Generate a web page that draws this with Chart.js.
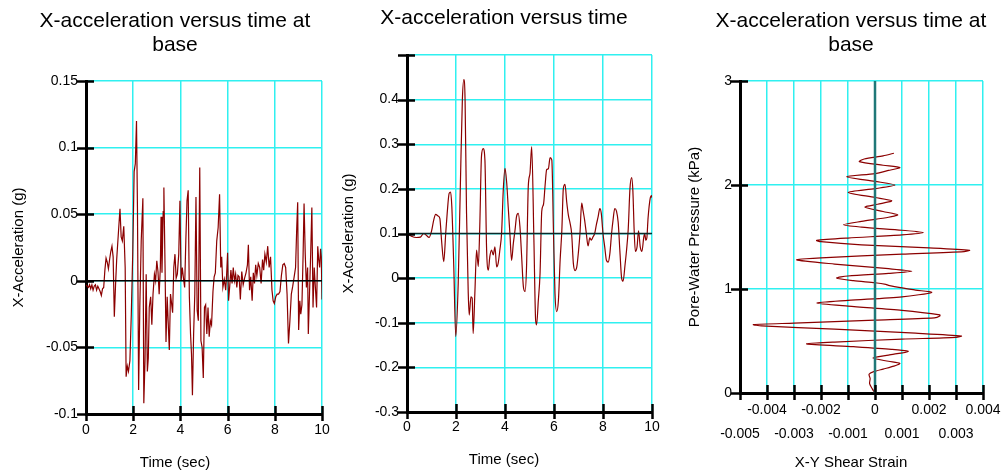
<!DOCTYPE html>
<html><head><meta charset="utf-8">
<script src="https://cdn.jsdelivr.net/npm/chart.js@4.4.1/dist/chart.umd.min.js"></script>
<style>
html,body{margin:0;padding:0;background:#fff;overflow:hidden;width:1003px;height:473px;position:relative;}
canvas{position:absolute;top:0;}
</style></head><body>
<canvas id="c1" width="350" height="473" style="left:0px"></canvas>
<canvas id="c2" width="328" height="473" style="left:340px"></canvas>
<canvas id="c3" width="330" height="473" style="left:686px"></canvas>
<script>
// ---------- Panel 1: base acceleration ----------
const baseTime = [0.00,0.05,0.10,0.15,0.20,0.25,0.30,0.35,0.40,0.45,0.50,0.55,0.60,0.65,0.70,0.75,0.80,0.85,0.90,0.95,1.00,1.05,1.10,1.15,1.20,1.25,1.30,1.38,1.44,1.49,1.54,1.60,1.66,1.70,1.75,1.80,1.86,1.92,1.98,2.04,2.09,2.14,2.18,2.23,2.28,2.34,2.41,2.45,2.50,2.55,2.60,2.64,2.68,2.74,2.79,2.84,2.90,2.95,3.00,3.05,3.10,3.15,3.18,3.22,3.27,3.30,3.35,3.39,3.44,3.48,3.53,3.58,3.62,3.67,3.72,3.77,3.82,3.87,3.93,3.98,4.03,4.08,4.13,4.18,4.23,4.28,4.33,4.38,4.43,4.47,4.51,4.56,4.61,4.66,4.71,4.76,4.82,4.87,4.92,4.97,5.02,5.07,5.12,5.17,5.22,5.27,5.32,5.38,5.43,5.48,5.54,5.60,5.66,5.71,5.75,5.80,5.86,5.92,5.96,6.00,6.04,6.09,6.14,6.19,6.24,6.29,6.34,6.39,6.44,6.49,6.54,6.60,6.66,6.72,6.78,6.84,6.88,6.93,6.98,7.04,7.09,7.14,7.19,7.24,7.30,7.36,7.42,7.48,7.53,7.58,7.64,7.70,7.76,7.82,7.88,7.93,7.98,8.04,8.10,8.16,8.22,8.28,8.34,8.40,8.46,8.52,8.58,8.64,8.70,8.76,8.82,8.88,8.93,8.97,9.01,9.06,9.10,9.15,9.20,9.24,9.29,9.34,9.39,9.42,9.47,9.52,9.57,9.62,9.67,9.72,9.77,9.82,9.86,9.90,9.94,9.97,10.00];
const baseAccel = [-0.003,-0.004,-0.005,-0.003,-0.006,-0.003,-0.007,-0.004,-0.003,-0.007,-0.004,-0.006,-0.008,-0.011,-0.006,-0.005,0.008,0.017,0.014,0.009,0.016,0.022,0.026,0.018,-0.027,-0.004,0.016,0.038,0.054,0.033,0.030,0.041,0.010,-0.072,-0.064,-0.068,-0.060,-0.025,0.020,0.082,0.088,0.120,0.055,-0.082,-0.020,0.030,0.062,-0.092,-0.060,0.005,-0.068,-0.058,-0.020,-0.012,-0.033,-0.010,0.005,0.000,0.015,0.007,-0.010,0.010,0.048,0.006,0.052,0.070,0.010,-0.046,-0.012,-0.030,-0.052,-0.010,-0.016,-0.024,0.010,0.020,0.002,0.005,0.020,0.060,0.000,0.010,0.002,-0.005,0.030,0.060,0.068,-0.012,-0.040,-0.055,-0.086,-0.040,-0.010,0.063,-0.022,-0.030,0.085,-0.045,-0.050,-0.073,-0.020,-0.018,-0.040,-0.020,-0.042,-0.030,-0.033,-0.008,0.003,0.006,0.030,0.040,0.065,0.010,0.018,-0.005,0.001,-0.007,0.005,0.021,-0.015,-0.004,0.008,-0.002,0.010,0.000,0.005,-0.005,0.004,0.003,-0.014,0.007,-0.003,0.002,0.006,0.012,0.027,-0.007,0.003,-0.015,0.006,-0.002,0.012,0.004,0.013,0.010,-0.002,0.016,0.008,0.020,0.014,0.026,0.010,0.018,-0.007,-0.015,-0.017,-0.012,-0.010,-0.010,-0.008,0.004,0.012,0.013,0.010,-0.010,-0.047,-0.030,-0.010,-0.004,0.003,0.010,0.040,0.059,-0.037,-0.015,-0.025,-0.018,0.020,0.058,0.020,-0.005,0.010,-0.040,-0.010,0.020,0.055,-0.020,0.010,-0.005,-0.020,0.026,0.016,0.010,0.024,0.018,-0.014];
const baseRefTime = [0, 10];
const baseRefAccel = [0, 0];
const timeTickLabels = ['0','2','4','6','8','10'];
const baseAccelTickLabels = ['-0.1','-0.05','0','0.05','0.1','0.15'];

// ---------- Panel 2: acceleration ----------
const accTime = [0.00,0.18,0.38,0.55,0.68,0.79,0.90,1.00,1.09,1.17,1.27,1.34,1.41,1.50,1.58,1.64,1.72,1.78,1.83,1.91,1.99,2.09,2.18,2.26,2.32,2.37,2.43,2.50,2.54,2.61,2.66,2.70,2.77,2.84,2.91,2.97,3.04,3.11,3.18,3.25,3.32,3.38,3.45,3.52,3.59,3.66,3.72,3.79,3.86,3.93,4.00,4.07,4.13,4.20,4.27,4.34,4.41,4.47,4.54,4.61,4.68,4.75,4.82,4.88,4.95,5.02,5.09,5.18,5.25,5.29,5.36,5.43,5.50,5.57,5.64,5.70,5.77,5.84,5.91,5.98,6.04,6.11,6.18,6.25,6.32,6.38,6.45,6.52,6.59,6.65,6.72,6.79,6.86,6.93,7.00,7.06,7.13,7.19,7.25,7.32,7.39,7.46,7.52,7.59,7.66,7.73,7.80,7.87,7.93,8.00,8.07,8.14,8.21,8.28,8.35,8.41,8.48,8.55,8.62,8.69,8.76,8.82,8.90,8.96,9.03,9.10,9.17,9.22,9.27,9.32,9.39,9.45,9.52,9.59,9.66,9.70,9.75,9.79,9.84,9.93,9.98,10.00];
const accValue = [0.100,0.094,0.091,0.092,0.100,0.096,0.091,0.105,0.130,0.143,0.139,0.134,0.085,0.037,0.100,0.145,0.190,0.193,0.160,0.025,-0.131,-0.012,0.213,0.400,0.445,0.400,0.146,-0.034,-0.083,-0.042,-0.045,-0.124,-0.034,0.063,0.026,0.115,0.273,0.290,0.265,0.063,0.018,0.048,0.063,0.052,0.070,0.025,0.033,0.063,0.100,0.198,0.246,0.213,0.160,0.100,0.040,0.078,0.108,0.138,0.145,0.115,0.048,-0.019,-0.030,0.026,0.205,0.235,0.295,0.085,-0.094,-0.105,-0.050,0.010,0.150,0.165,0.210,0.243,0.245,0.270,0.265,0.100,-0.034,-0.075,-0.050,0.040,0.107,0.200,0.210,0.170,0.140,0.125,0.100,0.033,0.017,0.025,0.060,0.100,0.168,0.150,0.130,0.100,0.072,0.090,0.085,0.092,0.100,0.120,0.137,0.156,0.145,0.100,0.070,0.040,0.036,0.055,0.100,0.130,0.156,0.150,0.125,0.060,0.000,-0.007,0.030,0.062,0.110,0.200,0.225,0.195,0.110,0.060,0.070,0.106,0.070,0.060,0.090,0.100,0.085,0.090,0.135,0.180,0.185,0.180];
const accRefTime = [0, 10];
const accRefValue = [0.1, 0.1];
const accTickLabels = ['-0.3','-0.2','-0.1','0','0.1','0.2','0.3','0.4',''];

// ---------- Panel 3: shear strain vs pore-water pressure ----------
const shearStrain = [0.00000,-0.00010,-0.00020,-0.00018,-0.00022,-0.00005,0.00030,0.00070,0.00092,0.00050,-0.00008,0.00050,0.00123,0.00060,-0.00080,-0.00253,-0.00150,0.00100,0.00300,0.00320,0.00150,-0.00150,-0.00420,-0.00450,-0.00300,0.00000,0.00220,0.00240,0.00240,0.00100,-0.00100,-0.00216,-0.00100,0.00100,0.00210,0.00150,0.00100,0.00050,0.00040,0.00000,-0.00080,-0.00142,-0.00100,0.00050,0.00136,0.00050,-0.00150,-0.00290,-0.00200,0.00100,0.00330,0.00350,0.00200,-0.00050,-0.00200,-0.00216,-0.00100,0.00100,0.00179,0.00100,-0.00050,-0.00117,-0.00050,0.00050,0.00084,0.00030,-0.00037,0.00010,0.00062,0.00000,-0.00099,0.00000,0.00074,0.00000,-0.00105,0.00000,0.00050,0.00092,0.00030,-0.00058,-0.00040,0.00030,0.00070];
const porePressure = [0.000,0.040,0.090,0.140,0.180,0.205,0.230,0.258,0.285,0.305,0.336,0.365,0.400,0.420,0.445,0.472,0.490,0.518,0.535,0.548,0.575,0.615,0.645,0.658,0.672,0.700,0.722,0.740,0.752,0.795,0.835,0.865,0.890,0.925,0.967,0.990,1.010,1.035,1.045,1.060,1.080,1.105,1.125,1.150,1.170,1.195,1.240,1.280,1.300,1.335,1.360,1.372,1.395,1.425,1.455,1.467,1.490,1.520,1.543,1.565,1.595,1.617,1.650,1.690,1.713,1.745,1.787,1.815,1.848,1.880,1.928,1.965,2.000,2.035,2.080,2.110,2.140,2.168,2.190,2.225,2.250,2.280,2.305];
const strainRefX = [0, 0];
const strainRefY = [0, 3];
const strainTickLabels = ['-0.005','-0.004','-0.003','-0.002','-0.001','0','0.001','0.002','0.003','0.004'];
const pressureTickLabels = ['0','1','2','3'];

// ---------- helpers ----------
const FONT = "'Liberation Sans', Arial, Helvetica, sans-serif";
const GRID = '#30F0F0';
const LINE = '#8B0000';
const zip = (xs, ys) => xs.map((x, i) => ({x: x, y: ys[i]}));

const tickMarks = {
  id: 'tickMarks',
  afterDraw(chart, args, o) {
    const ctx = chart.ctx, a = chart.chartArea, xs = chart.scales.x, ys = chart.scales.y;
    ctx.save();
    ctx.strokeStyle = '#000';
    ctx.lineWidth = 2.5;
    ctx.beginPath();
    ys.ticks.forEach(t => {
      const py = Math.round(ys.getPixelForValue(t.value)) + 0.5;
      ctx.moveTo(a.left - o.yOut, py); ctx.lineTo(a.left + o.yIn, py);
    });
    xs.ticks.forEach(t => {
      const px = Math.round(xs.getPixelForValue(t.value)) + 0.5;
      ctx.moveTo(px, a.bottom - o.xIn); ctx.lineTo(px, a.bottom + o.xOut);
    });
    ctx.stroke();
    ctx.restore();
  }
};

function panel(id, p) {
  return new Chart(document.getElementById(id), {
    type: 'scatter',
    data: { datasets: [
      { data: p.ref, showLine: true, borderColor: p.refColor, borderWidth: p.refWidth, pointRadius: 0, order: 0 },
      { data: p.data, showLine: true, borderColor: LINE, borderWidth: 1.2, pointRadius: 0, tension: p.tension,
        cubicInterpolationMode: p.mono ? 'monotone' : 'default', order: 1 }
    ]},
    options: {
      responsive: false, animation: false, devicePixelRatio: 1,
      layout: { padding: 0 },
      plugins: {
        legend: { display: false }, tooltip: { enabled: false },
        title: { display: true, text: p.title, color: '#000',
          font: { family: FONT, size: 21, weight: 'normal', lineHeight: 24 / 21 },
          padding: { top: p.titleTop, bottom: p.titleBottom } },
        subtitle: { display: true, position: 'bottom', text: p.xTitle, color: '#000',
          font: { family: FONT, size: 15, weight: 'normal', lineHeight: 1.2 },
          padding: { top: 0, bottom: p.subBottom } },
        tickMarks: { yOut: 9, yIn: 8, xIn: 8, xOut: 7 }
      },
      scales: {
        x: { type: 'linear', min: p.xMin, max: p.xMax,
          ticks: { stepSize: p.xStep, autoSkip: false, maxRotation: 0, padding: p.xPad, color: '#000',
            font: { family: FONT, size: 14, lineHeight: p.xLH }, callback: p.xCb },
          grid: { color: GRID, lineWidth: 1.5, drawTicks: false },
          border: { display: true, color: '#000', width: 3 },
          afterFit(s) { s.height = p.xH; } },
        y: { type: 'linear', position: 'left', min: p.yMin, max: p.yMax,
          ticks: { stepSize: p.yStep, autoSkip: false, padding: 8, color: '#000',
            font: { family: FONT, size: 14 }, callback: p.yCb },
          grid: { color: GRID, lineWidth: 1.5, drawTicks: false },
          border: { display: true, color: '#000', width: 3 },
          title: { display: true, text: p.yTitle, color: '#000',
            font: { family: FONT, size: 15, weight: 'normal', lineHeight: 1.2 },
            padding: { top: p.yTitlePad, bottom: 0 } },
          afterFit(s) { s.width = p.yW; } },
        gap: { type: 'linear', position: 'right', display: true,
          ticks: { display: false }, grid: { display: false, drawTicks: false },
          border: { display: false },
          afterFit(s) { s.width = p.right; } }
      }
    },
    plugins: [tickMarks]
  });
}

panel('c1', {
  title: ['X-acceleration versus time at', 'base'], titleTop: 9, titleBottom: 24,
  xTitle: 'Time (sec)', subBottom: 1, yTitle: 'X-Acceleration (g)', yTitlePad: 10,
  data: zip(baseTime, baseAccel), ref: zip(baseRefTime, baseRefAccel), refColor: '#000', refWidth: 1.5,
  tension: 0, mono: false,
  xMin: 0, xMax: 10, xStep: 2, xCb: (v, i) => timeTickLabels[i], xPad: 8, xLH: 1.2, xH: 40,
  yMin: -0.1, yMax: 0.15, yStep: 0.05, yCb: (v, i) => baseAccelTickLabels[i], yW: 86, right: 28
});

panel('c2', {
  title: 'X-acceleration versus time', titleTop: 6, titleBottom: 25,
  xTitle: 'Time (sec)', subBottom: 4, yTitle: 'X-Acceleration (g)', yTitlePad: 0,
  data: zip(accTime, accValue), ref: zip(accRefTime, accRefValue), refColor: '#0A2A2A', refWidth: 1.5,
  tension: 0.4, mono: true,
  xMin: 0, xMax: 10, xStep: 2, xCb: (v, i) => timeTickLabels[i], xPad: 7, xLH: 1.2, xH: 39,
  yMin: -0.3, yMax: 0.5, yStep: 0.1, yCb: (v, i) => accTickLabels[i], yW: 67, right: 16
});

panel('c3', {
  title: ['X-acceleration versus time at', 'base'], titleTop: 9, titleBottom: 24,
  xTitle: 'X-Y Shear Strain', subBottom: 1, yTitle: 'Pore-Water Pressure (kPa)', yTitlePad: 0,
  data: zip(shearStrain, porePressure), ref: zip(strainRefX, strainRefY), refColor: '#1F7878', refWidth: 2.5,
  tension: 0.25, mono: false,
  xMin: -0.005, xMax: 0.004, xStep: 0.001,
  xCb: (v, i) => (i % 2 === 0) ? ['', strainTickLabels[i]] : [strainTickLabels[i], ''],
  xPad: 5, xLH: 24 / 14, xH: 61,
  yMin: 0, yMax: 3, yStep: 1, yCb: (v, i) => pressureTickLabels[i], yW: 54, right: 33
});
</script>
</body></html>
